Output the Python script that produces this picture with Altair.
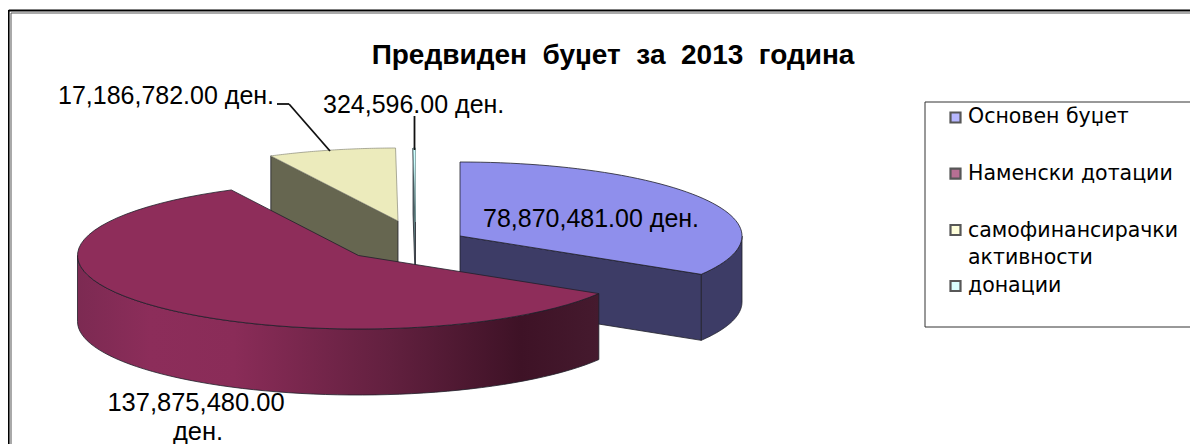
import numpy as np
import pandas as pd
import altair as alt

# --- chart values ---
categories = ["Основен буџет", "Наменски дотации", "самофинансирачки активности", "донации"]
values = [78870481.0, 137875480.0, 17186782.0, 324596.0]
value_labels = ["78,870,481.00 ден.", "137,875,480.00", "17,186,782.00 ден.", "324,596.00 ден."]
title_text = "Предвиден\u00a0 буџет\u00a0 за\u00a0 2013\u00a0 година"

# --- layout and style (image pixels) ---
W, H = 1182, 436
DEPTH = 66
cols_top = ["#8f8fec", "#8e2d5a", "#ecebbc", "#ccffff"]
col_wall = ["#3d3c66", None, "#666650", "#5f7f80"]
legend_sq = ["#9999ff", "#993366", "#ffffcc", "#ccffff"]
centers = [(460, 236, 282, 74), (358.5, 255.5, 281, 73.5), (398, 221, 281, 73), (415.5, 222, 281, 74)]

shares = np.array(values) / sum(values)
ends = np.cumsum(shares) * 360
starts = ends - shares * 360

x_s = alt.Scale(domain=[8, 8 + W], range=[0, W], nice=False, zero=False)
y_s = alt.Scale(domain=[8, 8 + H], range=[0, H], nice=False, zero=False)
X = lambda f="x": alt.X(f"{f}:Q", scale=x_s, axis=None)
Y = lambda f="y": alt.Y(f"{f}:Q", scale=y_s, axis=None)


def rim(c, t):
    cx, cy, a, b = c
    t = np.radians(t)
    return cx + a * np.sin(t), cy - b * np.cos(t)


def arc(c, t0, t1, n=60):
    return [rim(c, t) for t in np.linspace(t0, t1, n)]


def poly(pts, fill, stroke="#20202a", sw=0.8):
    pts = list(pts) + [pts[0]]
    df = pd.DataFrame({"x": [p[0] for p in pts], "y": [p[1] for p in pts], "i": range(len(pts))})
    return alt.Chart(df).mark_line(filled=True, fill=fill, stroke=stroke, strokeWidth=sw, interpolate="linear").encode(
        x=X(), y=Y(), order=alt.Order("i:Q")
    )


def down(pts):
    return [(x, y + DEPTH) for x, y in pts]


def cut_wall(c, t, fill):
    top = [(c[0], c[1]), rim(c, t)]
    return poly(top + down(top)[::-1], fill)


def rim_wall(c, t0, t1, fill):
    top = arc(c, t0, t1)
    return poly(top + down(top)[::-1], fill)


def top(c, t0, t1, fill, **kw):
    return poly([(c[0], c[1])] + arc(c, t0, t1), fill, **kw)


burg_grad = alt.LinearGradient(
    gradient="linear", x1=0, x2=1, y1=0, y2=0,
    stops=[
        alt.GradientStop(color="#7c2a52", offset=0),
        alt.GradientStop(color="#8c2d5a", offset=0.14),
        alt.GradientStop(color="#8a2c58", offset=0.30),
        alt.GradientStop(color="#62203f", offset=0.6),
        alt.GradientStop(color="#3e1226", offset=0.85),
        alt.GradientStop(color="#451a2e", offset=1),
    ],
)

layers = [
    # cyan sliver
    cut_wall(centers[3], starts[3], col_wall[3]),
    top(centers[3], starts[3], ends[3], cols_top[3], stroke="#6f8f90", sw=0.7),
    # yellow slice
    cut_wall(centers[2], starts[2], col_wall[2]),
    top(centers[2], starts[2], ends[2], cols_top[2], stroke="#8a8a78", sw=0.7),
    # blue slice
    rim_wall(centers[0], 90, ends[0], col_wall[0]),
    cut_wall(centers[0], ends[0], col_wall[0]),
    top(centers[0], starts[0], ends[0], cols_top[0]),
    # burgundy slice
    rim_wall(centers[1], starts[1], 270, burg_grad),
    top(centers[1], starts[1], ends[1], cols_top[1]),
]


def segs(x0, y0, x1, y1, color="#000000", sw=1.0):
    df = pd.DataFrame({"x": [x0], "y": [y0], "x2": [x1], "y2": [y1]})
    return alt.Chart(df).mark_rule(color=color, strokeWidth=sw).encode(
        x=X(), y=Y(), x2="x2:Q", y2="y2:Q"
    )


# outer frame, leader lines, legend box
RIGHT = 8 + W
layers += [
    segs(8.8, 10.5, RIGHT, 10.5, "#000000", 2),
    segs(8.8, 10, 8.8, 444, "#000000", 1.6),
    segs(11, 13, RIGHT, 13, "#555555", 1),
    segs(11, 13, 11, 444, "#555555", 1),
    segs(277, 104, 289, 104, "#111111", 1.8),
    segs(289, 104, 330, 151, "#111111", 1.8),
    segs(414.5, 116, 414.5, 150, "#111111", 1.8),
    segs(925, 102, RIGHT, 102, "#333333", 1),
    segs(925, 327, RIGHT, 327, "#333333", 1),
    segs(925, 102, 925, 327, "#333333", 1),
]

legend_y = [117.5, 173.7, 230, 286]
sq = pd.DataFrame({"x": [955.5] * 4, "y": legend_y, "c": legend_sq})
layers.append(
    alt.Chart(sq).mark_square(size=100, filled=True, stroke="#111111", strokeWidth=2.2).encode(
        x=X(), y=Y(), fill=alt.Fill("c:N", scale=None)
    )
)


def text(rows, size, align="left", weight="normal", font="Liberation Sans"):
    df = pd.DataFrame(rows, columns=["x", "y", "t"])
    return alt.Chart(df).mark_text(
        fontSize=size, align=align, baseline="middle", font=font, fontWeight=weight, color="#000000"
    ).encode(x=X(), y=Y(), text="t:N")


layers += [
    text([(613, 56, title_text)], 28, "center", "bold"),
    text([(58, 96, value_labels[2]), (323, 105, value_labels[3]), (483, 219, value_labels[0])], 25),
    text([(196, 403, value_labels[1]), (198, 432, "ден.")], 25.5, "center"),
    text([(968, 117, categories[0]), (968, 174, categories[1]), (968, 231, "самофинансирачки"),
          (968, 258, "активности"), (968, 286, categories[3])], 20.5, font="DejaVu Sans"),
]

chart = alt.layer(*layers).properties(
    width=W, height=H, padding=0, autosize=alt.AutoSizeParams(type="none"),
    background="#ffffff",
).configure_view(stroke=None)

chart.save("out.html", embed_options={"renderer": "svg", "actions": False})
